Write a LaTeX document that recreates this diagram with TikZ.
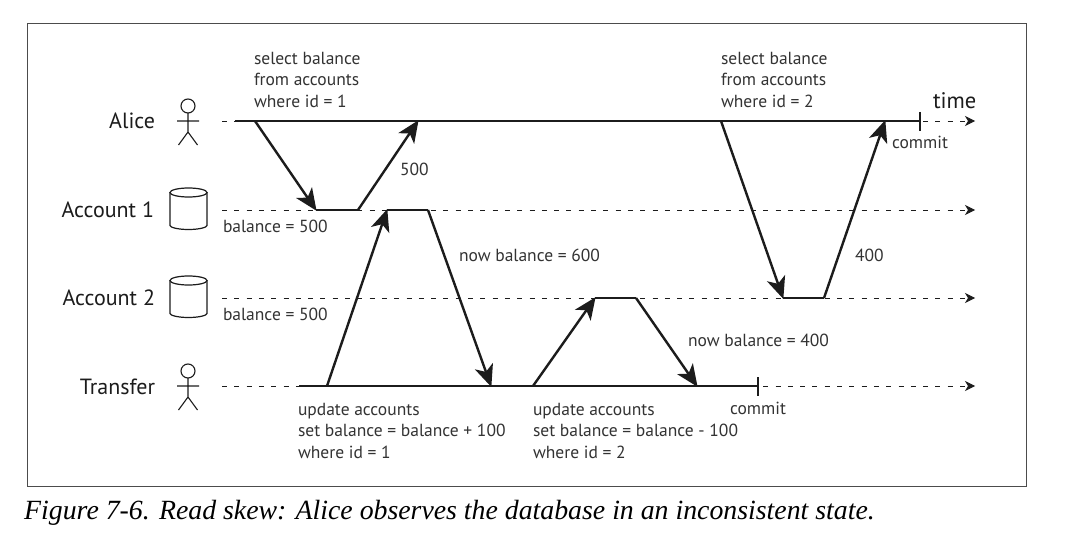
\documentclass[tikz,border=0pt]{standalone}
\usepackage{fontspec}
\setmainfont{PT Sans}
\newfontfamily\capfont{Liberation Serif}
\usetikzlibrary{arrows.meta}
\definecolor{ink}{HTML}{1C1C1C}
\definecolor{txt}{HTML}{333333}
\tikzset{
  x=1pt,y=-1pt,
  small/.style={inner sep=0pt,outer sep=0pt,text=txt,font=\fontsize{17.5}{21.5}\selectfont,align=left,anchor=north west},
  one/.style={inner sep=0pt,outer sep=0pt,text=txt,font=\fontsize{17.5}{21.5}\selectfont,anchor=base west},
  who/.style={inner sep=0pt,outer sep=0pt,text=ink,font=\fontsize{22}{24}\selectfont,anchor=base east},
  timeline/.style={draw=ink,line width=0.8pt,dash pattern=on 5pt off 7.3pt,-{Stealth[length=10pt,width=10pt,inset=3pt]}},
  span/.style={draw=ink,line width=2.2pt},
  tick/.style={draw=ink,line width=1.6pt},
  msg/.style={draw=ink,line width=2.4pt,-{Stealth[length=22pt,width=19pt,inset=6pt]},shorten >=-1pt},
  figure/.style={draw=ink,line width=1.1pt},
  drum/.style={draw=ink,line width=1.2pt}
}
\newcommand{\stick}[2]{%
  \draw[figure] (#1,#2-15) circle[radius=7];
  \draw[figure] (#1,#2-8) -- (#1,#2+11) (#1-11,#2) -- (#1+11,#2)
    (#1-9.5,#2+24) -- (#1,#2+11) -- (#1+9.5,#2+24);
}
\newcommand{\drumshape}[2]{%
  \draw[drum] (#1-18.5,#2) .. controls (#1-18.5,#2-2.5) and (#1-10.2,#2-4.5) .. (#1,#2-4.5)
    .. controls (#1+10.2,#2-4.5) and (#1+18.5,#2-2.5) .. (#1+18.5,#2)
    .. controls (#1+18.5,#2+2.5) and (#1+10.2,#2+4.5) .. (#1,#2+4.5)
    .. controls (#1-10.2,#2+4.5) and (#1-18.5,#2+2.5) .. (#1-18.5,#2) -- cycle;
  \draw[drum] (#1-18.5,#2) -- (#1-18.5,#2+33)
    .. controls (#1-18.5,#2+35) and (#1-10.2,#2+37) .. (#1,#2+37)
    .. controls (#1+10.2,#2+37) and (#1+18.5,#2+35) .. (#1+18.5,#2+33) -- (#1+18.5,#2);
}
\begin{document}
\begin{tikzpicture}
\useasboundingbox (0,0) rectangle (1070,548);
\fill[white] (0,0) rectangle (1070,548);
\draw[draw=black!70,line width=1pt] (27,24) rectangle (1026,486);

% lane ends
\coordinate (a0) at (222,121); \coordinate (a1) at (975,121);
\coordinate (b0) at (222,210); \coordinate (b1) at (975,210);
\coordinate (c0) at (222,298); \coordinate (c1) at (975,298);
\coordinate (d0) at (222,386); \coordinate (d1) at (975,386);
\draw[timeline] (a0) -- (a1);
\draw[timeline] (b0) -- (b1);
\draw[timeline] (c0) -- (c1);
\draw[timeline] (d0) -- (d1);

% Alice and Transfer activity
\coordinate (as) at (235,121); \coordinate (ac) at (920,121);
\coordinate (ts) at (299,386); \coordinate (tc) at (758,386);
\draw[span] (as) -- (ac);
\draw[span] (ts) -- (tc);
\draw[tick] (920,112) -- (920,131);
\draw[tick] (758,377) -- (758,396);

% waypoints
\coordinate (p1) at (255,121); \coordinate (p2) at (316,210);
\coordinate (p3) at (358,210); \coordinate (p4) at (418,121);
\coordinate (q1) at (327,386); \coordinate (q2) at (387,210);
\coordinate (q3) at (428,210); \coordinate (q4) at (491,386);
\coordinate (r1) at (533,386); \coordinate (r2) at (595,298);
\coordinate (r3) at (636,298); \coordinate (r4) at (697,386);
\coordinate (s1) at (721,121); \coordinate (s2) at (783,298);
\coordinate (s3) at (824,298); \coordinate (s4) at (885,121);

\draw[span] (p2) -- (p3);
\draw[span] (q2) -- (q3);
\draw[span] (r2) -- (r3);
\draw[span] (s2) -- (s3);
\draw[msg] (p1) -- (p2);
\draw[msg] (p3) -- (p4);
\draw[msg] (q1) -- (q2);
\draw[msg] (q3) -- (q4);
\draw[msg] (r1) -- (r2);
\draw[msg] (r3) -- (r4);
\draw[msg] (s1) -- (s2);
\draw[msg] (s3) -- (s4);

% actors
\stick{188}{121}
\stick{188}{386}
\drumshape{188.5}{192.5}
\drumshape{188.5}{280.5}
\node[who] (nalice) at (155,129) {Alice};
\node[who] (nacc1) at (154,217) {Account 1};
\node[who] (nacc2) at (155,305) {Account 2};
\node[who] (ntrans) at (155,394) {Transfer};
\node[who,anchor=base west,font=\fontsize{22.5}{24}\selectfont] (ntime) at (933,109) {time};

% labels
\node[small] (l1) at (254,52) {select balance\\from accounts\\where id = 1};
\node[small] (l2) at (721,52) {select balance\\from accounts\\where id = 2};
\node[small] (l3) at (298,403) {update accounts\\set balance = balance + 100\\where id = 1};
\node[small] (l4) at (533,403) {update accounts\\set balance = balance - 100\\where id = 2};
\node[one] (l5) at (400,176) {500};
\node[one] (l6) at (855,261) {400};
\node[one] (l7) at (223,232) {balance = 500};
\node[one] (l8) at (223,320) {balance = 500};
\node[one] (l9) at (459,261) {now balance = 600};
\node[one] (l10) at (688,346) {now balance = 400};
\node[one] (l11) at (892,149) {commit};
\node[one] (l12) at (730,414) {commit};
\node[inner sep=0pt,anchor=base west,text=black,font=\capfont\itshape\fontsize{27.8}{30}\selectfont] (cap) at (24,519) {Figure 7-6. Read skew: Alice observes the database in an inconsistent state.};
\end{tikzpicture}
\end{document}
